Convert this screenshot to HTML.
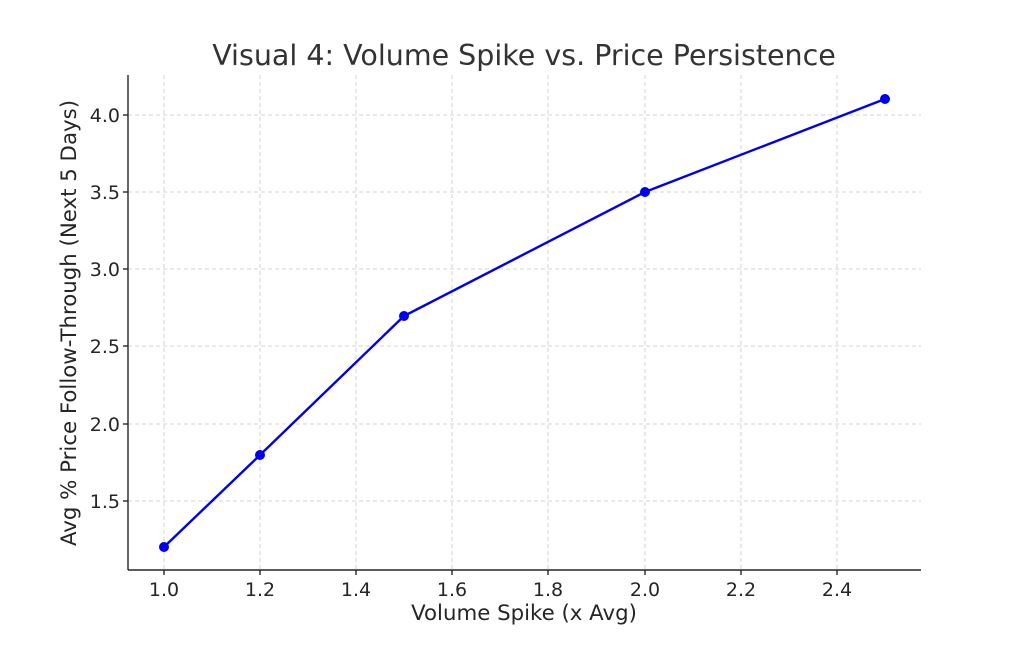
<!DOCTYPE html>
<html><head><meta charset="utf-8"><style>body{margin:0;background:#fff}</style></head><body>
<svg width="1024" height="640" xmlns="http://www.w3.org/2000/svg" font-family="DejaVu Sans, Liberation Sans, sans-serif" fill="#262626">
<rect width="1024" height="640" fill="#fff"/>
<g stroke="#c8c8c8" stroke-width="0.8" stroke-dasharray="4,3">
<line x1="164" y1="75" x2="164" y2="570"/><line x1="260" y1="75" x2="260" y2="570"/><line x1="356" y1="75" x2="356" y2="570"/><line x1="452" y1="75" x2="452" y2="570"/><line x1="548" y1="75" x2="548" y2="570"/><line x1="645" y1="75" x2="645" y2="570"/><line x1="741" y1="75" x2="741" y2="570"/><line x1="837" y1="75" x2="837" y2="570"/>
<line x1="128" y1="115" x2="921" y2="115"/><line x1="128" y1="192" x2="921" y2="192"/><line x1="128" y1="269" x2="921" y2="269"/><line x1="128" y1="346" x2="921" y2="346"/><line x1="128" y1="424" x2="921" y2="424"/><line x1="128" y1="501" x2="921" y2="501"/>
</g>
<g stroke="#262626" stroke-width="1.4">
<line x1="128" y1="75" x2="128" y2="570"/><line x1="128" y1="570" x2="921" y2="570"/>
<line x1="164" y1="570" x2="164" y2="575"/><line x1="260" y1="570" x2="260" y2="575"/><line x1="356" y1="570" x2="356" y2="575"/><line x1="452" y1="570" x2="452" y2="575"/><line x1="548" y1="570" x2="548" y2="575"/><line x1="645" y1="570" x2="645" y2="575"/><line x1="741" y1="570" x2="741" y2="575"/><line x1="837" y1="570" x2="837" y2="575"/>
<line x1="123" y1="115" x2="128" y2="115"/><line x1="123" y1="192" x2="128" y2="192"/><line x1="123" y1="269" x2="128" y2="269"/><line x1="123" y1="346" x2="128" y2="346"/><line x1="123" y1="424" x2="128" y2="424"/><line x1="123" y1="501" x2="128" y2="501"/>
</g>
<g font-size="19" text-anchor="middle">
<text x="164" y="596">1.0</text><text x="260" y="596">1.2</text><text x="356" y="596">1.4</text><text x="452" y="596">1.6</text><text x="548" y="596">1.8</text><text x="645" y="596">2.0</text><text x="741" y="596">2.2</text><text x="837" y="596">2.4</text>
</g>
<g font-size="19" text-anchor="end">
<text x="120" y="122">4.0</text><text x="120" y="199">3.5</text><text x="120" y="276">3.0</text><text x="120" y="353">2.5</text><text x="120" y="431">2.0</text><text x="120" y="508">1.5</text>
</g>
<text x="524" y="65" font-size="28.5" text-anchor="middle" fill="#333">Visual 4: Volume Spike vs. Price Persistence</text>
<text x="524" y="620" font-size="21.3" text-anchor="middle">Volume Spike (x Avg)</text>
<text transform="translate(76,323) rotate(-90)" font-size="21.3" text-anchor="middle">Avg % Price Follow-Through (Next 5 Days)</text>
<polyline points="164,547 260,455 404,316 645,192 885,99" fill="none" stroke="#0000ee" stroke-width="2.4"/>
<g fill="#0000ee"><circle cx="164" cy="547" r="5"/><circle cx="260" cy="455" r="5"/><circle cx="404" cy="316" r="5"/><circle cx="645" cy="192" r="5"/><circle cx="885" cy="99" r="5"/></g>
</svg>
</body></html>
